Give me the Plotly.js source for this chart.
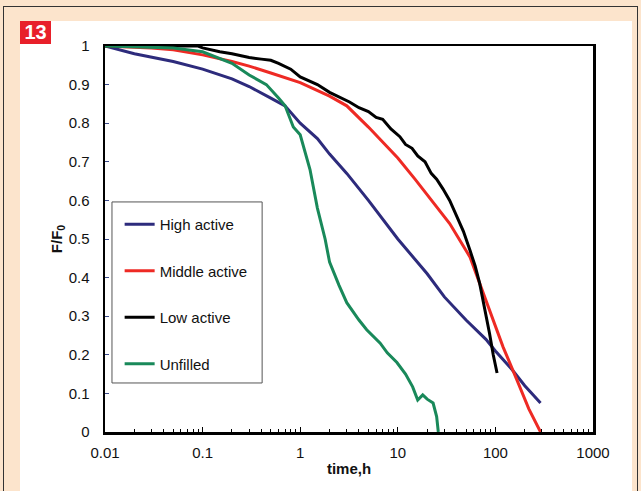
<!DOCTYPE html>
<html>
<head>
<meta charset="utf-8">
<script src="https://cdn.plot.ly/plotly-3.0.1.min.js"></script>
<style>
  html, body { margin: 0; padding: 0; }
  body { width: 641px; height: 491px; background: #fce4cc; position: relative; overflow: hidden; font-family: "Liberation Sans", Arial, sans-serif; }
  #frame { position: absolute; left: 3px; top: 6px; width: 635px; height: 500px; border: 1px solid #333; box-sizing: border-box; }
  #panel { position: absolute; left: 20px; top: 21px; width: 612px; height: 480px; background: #ffffff; }
  #badge { position: absolute; left: 20px; top: 21px; width: 31px; height: 23px; background: #e8202a; color: #fff; font-weight: bold; font-size: 20px; line-height: 23px; text-align: center; }
  #chart { position: absolute; left: 0; top: 0; width: 641px; height: 491px; }
</style>
</head>
<body>
<div id="frame"></div>
<div id="panel"></div>
<div id="chart"></div>
<div id="badge">13</div>
<script>
// Data
const seriesNames = ["High active", "Middle active", "Low active", "Unfilled"];
const seriesColors = ["#2d2b7c", "#ee2a24", "#000000", "#19895a"];

const highX = [0.01, 0.02, 0.05, 0.1, 0.2, 0.3, 0.5, 0.7, 1.0, 1.5, 2, 3, 5, 7, 10, 20, 30, 50, 80, 100, 150, 200, 290];
const highY = [1.0, 0.98, 0.96, 0.94, 0.915, 0.895, 0.865, 0.845, 0.80, 0.76, 0.72, 0.67, 0.60, 0.55, 0.50, 0.41, 0.35, 0.29, 0.24, 0.21, 0.16, 0.12, 0.075];

const midX = [0.01, 0.03, 0.05, 0.1, 0.2, 0.3, 0.5, 1, 2, 3, 5, 7, 10, 15, 22, 34, 55, 87, 120, 166, 220, 290];
const midY = [1.0, 0.995, 0.99, 0.977, 0.96, 0.948, 0.93, 0.905, 0.87, 0.845, 0.79, 0.75, 0.71, 0.655, 0.60, 0.54, 0.453, 0.316, 0.22, 0.135, 0.06, 0.0];

const lowX = [0.01, 0.05, 0.09, 0.1, 0.15, 0.2, 0.25, 0.3, 0.4, 0.5, 0.6, 0.8, 1, 1.5, 2, 3.2, 4, 5, 6, 7, 8.5, 10.5, 12, 14, 16, 19, 22, 25, 29, 34, 40, 47, 55, 62, 69, 78, 87, 95, 104];
const lowY = [1.0, 1.0, 1.0, 0.995, 0.985, 0.98, 0.975, 0.97, 0.966, 0.963, 0.955, 0.94, 0.92, 0.90, 0.88, 0.855, 0.84, 0.83, 0.815, 0.81, 0.785, 0.765, 0.745, 0.735, 0.715, 0.70, 0.67, 0.655, 0.63, 0.60, 0.56, 0.52, 0.47, 0.43, 0.385, 0.32, 0.256, 0.20, 0.153];

const unfX = [0.01, 0.05, 0.1, 0.2, 0.3, 0.45, 0.6, 0.7, 0.85, 1.0, 1.26, 1.5, 1.8, 2.0, 2.5, 3.0, 4.0, 4.8, 6.6, 7.8, 9.8, 12, 14.2, 16, 18, 20, 23, 25, 26];
const unfY = [1.0, 0.995, 0.985, 0.955, 0.925, 0.9, 0.865, 0.845, 0.79, 0.77, 0.68, 0.58, 0.50, 0.44, 0.38, 0.335, 0.29, 0.265, 0.23, 0.205, 0.18, 0.15, 0.117, 0.083, 0.096, 0.085, 0.075, 0.04, 0.0];

const xs = [highX, midX, lowX, unfX];
const ys = [highY, midY, lowY, unfY];

const traces = seriesNames.map((n, i) => ({
  x: xs[i], y: ys[i], name: n, type: "scatter", mode: "lines",
  line: { color: seriesColors[i], width: 3 },
  legendgroup: "g" + i
}));

const tickFont = { family: "Liberation Sans, Arial, sans-serif", size: 15, color: "#111" };

const layout = {
  width: 641, height: 491,
  margin: { l: 105, r: 48, t: 46, b: 59 },
  paper_bgcolor: "rgba(0,0,0,0)",
  plot_bgcolor: "#ffffff",
  showlegend: true,
  legend: {
    x: 0.03, y: 0.58, xanchor: "left", yanchor: "top",
    bgcolor: "rgba(0,0,0,0)", borderwidth: 0,
    font: { family: "Liberation Sans, Arial, sans-serif", size: 15, color: "#111" },
    tracegroupgap: 24
  },
  xaxis: {
    type: "log", range: [-2, 3], dtick: 1,
    tickvals: [0.01, 0.1, 1, 10, 100, 1000],
    ticktext: ["0.01", "0.1", "1", "10", "100", "1000"],
    ticks: "inside", ticklen: 5, tickwidth: 1, tickcolor: "#000",
    minor: { ticks: "inside", ticklen: 3, tickwidth: 1, tickcolor: "#000", dtick: "D1" },
    showline: true, linecolor: "#000", linewidth: 2.5, mirror: true,
    showgrid: false, zeroline: false,
    tickfont: tickFont, ticklabelstandoff: 5,
    title: { text: "<b>time,h</b>", font: { family: "Liberation Sans, Arial, sans-serif", size: 15, color: "#111" }, standoff: 4 }
  },
  yaxis: {
    range: [0, 1], dtick: 0.1,
    ticks: "inside", ticklen: 4, tickwidth: 1, tickcolor: "#3a4a8a",
    showline: true, linecolor: "#000", linewidth: 2.5, mirror: true,
    showgrid: false, zeroline: false,
    tickfont: tickFont, ticklabelstandoff: 10,
    title: { text: "<b>F/F<sub>0</sub></b>", font: { family: "Liberation Sans, Arial, sans-serif", size: 15, color: "#111" }, standoff: 3 }
  },
  shapes: [{
    type: "rect", xref: "paper", yref: "paper",
    x0: 0.0143, x1: 0.322, y0: 0.127, y1: 0.596,
    line: { color: "#555", width: 1 }, fillcolor: "rgba(0,0,0,0)", layer: "below"
  }]
};

Plotly.newPlot("chart", traces, layout, { displayModeBar: false, staticPlot: true });
</script>
</body>
</html>
